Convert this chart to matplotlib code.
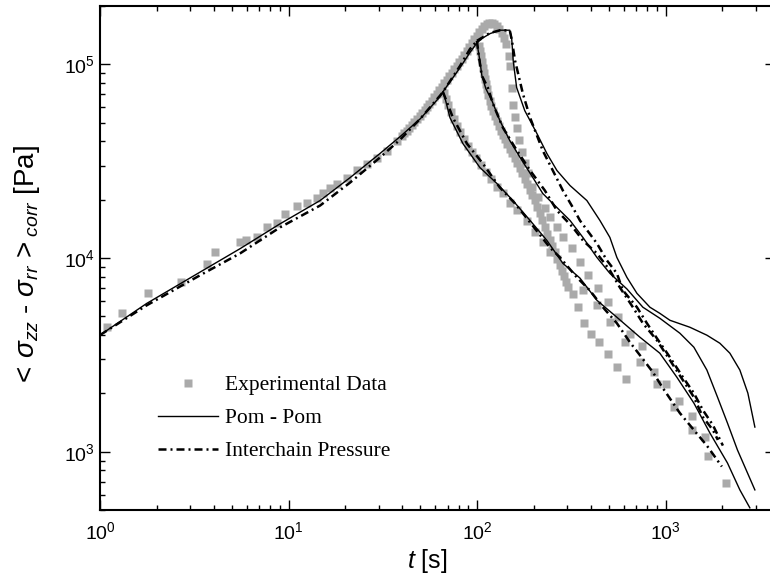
import matplotlib
matplotlib.use('Agg')
import numpy as np
import matplotlib.pyplot as plt
from matplotlib.ticker import LogLocator, FuncFormatter, NullFormatter

plt.rcParams['font.family'] = 'Liberation Sans'
plt.rcParams['mathtext.fontset'] = 'custom'
plt.rcParams['mathtext.rm'] = 'Liberation Sans'
plt.rcParams['mathtext.it'] = 'Liberation Sans:italic'
plt.rcParams['mathtext.bf'] = 'Liberation Sans:bold'

# experimental data: common start-up curve
exp_grow_t = [1.09, 1.31, 1.80, 2.69, 3.69, 4.07, 5.53, 5.94, 6.80, 7.68, 8.68, 9.57, 11.1, 12.5, 14.1,
              15.2, 16.6, 18.1, 20.4, 23.1, 26.0, 29.4, 33.2, 37.6, 39.9, 41.1, 42.4, 43.7, 45.1, 46.5,
              48.0, 49.5, 51.0, 52.6, 54.2, 55.9, 57.6, 59.4, 61.2, 63.1, 65.1, 67.1, 69.2, 71.3, 73.5,
              75.8, 78.2, 80.6, 83.1, 85.7, 88.3, 91.1, 93.9, 96.8, 99.8]
exp_grow_s = [4390, 5180, 6610, 7530, 9270, 10800, 12080, 12320, 12760, 14390, 15250, 16970, 18660, 19340, 20510,
              21770, 23100, 24230, 26000, 28300, 30720, 33000, 35800, 40400, 42800, 44080, 45400, 47070, 48800, 50570,
              52400, 54300, 56260, 58290, 60400, 62610, 64900, 67640, 70500, 73490, 76600, 79830, 83200, 86730, 90400,
              94220, 98200, 102360, 106700, 111920, 117400, 123110, 129100, 134590, 140300]

# relaxation after the short run
exp1_t = [66.7, 68.3, 70.0, 72.6, 75.3, 78.2, 81.1, 85.1, 89.4, 93.9, 98.5, 104.7, 111.3, 118.3, 127.4, 137.0,
          149.2, 162.6, 183.7, 202.5, 223.4, 243.2, 363.9, 431.7, 505.9, 607.6, 729.8, 898.0, 1105, 1377, 1674, 2085]
exp1_s = [71340, 66420, 61840, 56930, 52400, 48230, 44890, 41320, 38040, 35420, 32980, 30350, 27940, 25720, 23390, 21780,
          19340, 17590, 15440, 13550, 12030, 10690, 6810, 5700, 4660, 3675, 2898, 2245, 1700, 1294, 950, 690]

# relaxation after the middle run
exp2_t = [102.2, 103.4, 104.7, 106.0, 107.3, 108.6, 110.0, 111.3, 112.7, 114.8, 116.9, 119.1, 121.3, 124.3, 127.4,
          130.5, 133.7, 137.0, 140.4, 144.7, 149.2, 153.8, 158.6, 163.6, 168.7, 173.9, 179.2, 184.8, 190.5, 196.4,
          202.5, 208.8, 215.3, 221.9, 228.8, 235.9, 243.2, 250.7, 258.5, 266.5, 274.8, 281.6, 288.5, 295.7, 303.0,
          322.0, 342.3, 368.4, 401.3, 442.4, 493.8, 551.0, 615.2]
exp2_s = [124550, 117370, 110600, 103010, 95940, 89890, 84220, 79360, 74780, 69640, 64860, 61120, 57600, 54290, 51170,
          48210, 45430, 43330, 41320, 38940, 36700, 34790, 32980, 31090, 29300, 27450, 25720, 24090, 22560, 21140,
          19810, 18340, 16980, 15630, 14380, 13310, 12320, 11480, 10690, 9900, 9160, 8580, 8040, 7530, 7056,
          6494, 5566, 4605, 4041, 3675, 3187, 2732, 2368]

# overshoot and relaxation of the long run
exp3_t = [102.9, 106.0, 109.3, 112.7, 116.2, 119.8, 123.5, 127.4, 131.3, 135.4, 138.7, 142.1, 147.4, 149.2, 152.9,
          154.8, 158.6, 162.6, 166.6, 172.8, 179.2, 185.9, 195.2, 210.1, 228.8, 243.2, 264.9, 285.1, 318.1, 350.8,
          386.8, 437.0, 493.8, 557.8, 645.9, 747.8, 865.8, 1002, 1175, 1377, 1614]
exp3_s = [146200, 152360, 156960, 161700, 162650, 163600, 160720, 157900, 151470, 145300, 136110, 127500, 110600, 98240, 75670,
          61840, 53630, 47090, 40830, 35420, 31090, 27610, 23390, 20530, 18220, 16190, 14380, 12770, 11210, 9504,
          8147, 6988, 5934, 4966, 4060, 3521, 2586, 2243, 1834, 1532, 1194]

# Pom-Pom model
pp_grow_t = [1.0, 1.77, 3.39, 5.53, 9.0, 14.7, 21.2, 30.5, 39.0, 50.0, 63.5, 65.9, 81.1, 91.6, 99.8]
pp_grow_s = [4000, 5830, 8450, 11170, 15000, 19800, 26000, 34600, 42300, 52400, 68000, 72200, 96000, 115000, 129000]
pp1_t = [65.9, 67.5, 71.8, 84.1, 103.5, 127.4, 154.8, 191, 234.5, 285, 351, 431.8, 551, 730, 931, 1146, 1411,
         1716, 2127, 2474, 2795]
pp1_s = [72200, 67200, 53000, 38950, 29300, 24230, 19800, 15620, 12320, 9380, 7877, 6050, 4943, 3900, 3225, 2425, 1782,
         1249, 874, 635, 513]
pp2_t = [99.8, 103.5, 106, 111.3, 119.8, 132, 149, 169, 197.6, 223, 258.5, 311, 364, 431.8, 506, 623, 757, 931,
         1189, 1411, 1654, 1883, 2127, 2403, 2715, 2972]
pp2_s = [129000, 104200, 87300, 74800, 64900, 51200, 40400, 33000, 26000, 21520, 18660, 15620, 12770, 10070, 8330, 6920,
         5570, 4885, 4090, 3463, 2640, 1913, 1405, 1020, 777, 635]
pp3_t = [99.8, 107.3, 117, 132, 149, 152.4, 155.4, 162, 179, 207.6, 234.5, 265, 311, 382, 448, 506, 551, 623, 704,
         825, 931, 1053, 1344, 1654, 1938, 2190, 2474, 2728, 2972]
pp3_s = [129000, 136900, 144000, 150000, 150000, 137500, 104200, 75900, 57600, 43900, 34600, 28300, 23660, 19800, 15620,
         12770, 10070, 7940, 6570, 5570, 5180, 4770, 4390, 3995, 3630, 3225, 2640, 2006, 1340]

# Interchain Pressure model
ic_grow_t = [1.0, 1.77, 3.39, 5.53, 9.0, 14.7, 21.2, 30.5, 39.0, 50.0, 63.5, 65.9, 81.1, 91.6, 99.8]
ic_grow_s = [4000, 5700, 8140, 10560, 14380, 18660, 24520, 33000, 40800, 52400, 68800, 72000, 98000, 119800, 132200]
ic1_t = [65.9, 74.4, 88.3, 107.3, 132, 159, 191, 243, 275, 338, 396, 464.5, 551, 646, 730, 855, 966, 1189, 1411,
         1654, 1986]
ic1_s = [72000, 53000, 38950, 30720, 23100, 19110, 15260, 11340, 10070, 7940, 6810, 5570, 4605, 3675, 3150, 2575, 2130,
         1583, 1294, 1075, 838]
ic2_t = [99.8, 102, 106, 114, 121.3, 137, 159, 191, 228.8, 265, 322, 364, 431.8, 506, 571, 670, 757, 898, 1053,
         1234, 1411, 1575, 1780, 1891]
ic2_s = [132200, 110600, 87300, 75700, 62600, 47100, 37140, 28300, 22300, 17600, 14380, 12320, 10560, 8630, 7056, 5570,
         4605, 3760, 2970, 2340, 1913, 1510, 1294, 1150]
ic3_t = [99.8, 117, 132, 149, 153, 159, 174.9, 191, 223, 252, 285, 322, 351, 431.8, 488, 551, 593, 704, 795, 898,
         1053, 1234, 1411, 1575, 1780, 2011]
ic3_s = [132200, 145300, 149700, 149700, 132200, 104200, 70500, 53000, 35800, 28300, 22300, 18220, 15620, 11890, 9720,
         8330, 6810, 5570, 4605, 3853, 3075, 2425, 2006, 1640, 1372, 1075]

grey = '#aaaaaa'
dashdot = (0, (3.2, 1.6, 0.8, 1.6))

fig = plt.figure(figsize=(7.7, 5.8), dpi=100)
ax = fig.add_axes([100 / 770, 70 / 580, 675 / 770, 504 / 580])

# experimental squares
for t, s in [(exp_grow_t, exp_grow_s), (exp1_t, exp1_s), (exp2_t, exp2_s), (exp3_t, exp3_s)]:
    ax.plot(t, s, ls='none', marker='s', ms=5.2, mfc=grey, mec='none', zorder=1)

# model curves
for t, s in [(pp_grow_t, pp_grow_s), (pp1_t, pp1_s), (pp2_t, pp2_s), (pp3_t, pp3_s)]:
    ax.plot(t, s, color='black', lw=1.0, zorder=3)
for t, s in [(ic_grow_t, ic_grow_s), (ic1_t, ic1_s), (ic2_t, ic2_s), (ic3_t, ic3_s)]:
    ax.plot(t, s, color='black', lw=1.8, ls=dashdot, zorder=2)

ax.set_xscale('log')
ax.set_yscale('log')
ax.set_xlim(1, 3800)
ax.set_ylim(500, 2e5)

fmt = FuncFormatter(lambda v, p: r'$10^{%d}$' % round(np.log10(v)))
for axis in [ax.xaxis, ax.yaxis]:
    axis.set_major_locator(LogLocator(base=10))
    axis.set_minor_locator(LogLocator(base=10, subs=np.arange(2, 10)))
    axis.set_major_formatter(fmt)
    axis.set_minor_formatter(NullFormatter())

ax.tick_params(which='both', direction='in', top=True, right=True, width=1.0, labelsize=14)
ax.tick_params(which='major', length=7.2)
ax.tick_params(which='minor', length=3.8)
ax.tick_params(axis='x', pad=8)
for sp in ax.spines.values():
    sp.set_linewidth(1.5)

ax.set_xlabel(r'$t$ [s]', fontsize=18)
ax.xaxis.set_label_coords(327 / 675, -37 / 504)
ax.set_ylabel(r'$<\,\sigma_{zz}$ - $\sigma_{rr}\,>_{corr}$ [Pa]', fontsize=20)
ax.yaxis.set_label_coords(-58 / 675, 244 / 504)

# legend proxies
h_exp, = ax.plot([], [], ls='none', marker='s', ms=5.2, mfc=grey, mec='none')
h_pp, = ax.plot([], [], color='black', lw=1.0)
h_ic, = ax.plot([], [], color='black', lw=1.8, ls=dashdot)
ax.legend([h_exp, h_pp, h_ic], ['Experimental Data', 'Pom - Pom', 'Interchain Pressure'],
          loc='upper left', bbox_to_anchor=(158 / 770, 1 - 375 / 580), bbox_transform=fig.transFigure,
          frameon=False, borderpad=0, borderaxespad=0, handlelength=2.8, handletextpad=0.3,
          labelspacing=0.6, numpoints=1, prop={'family': 'Liberation Serif', 'size': 15.5})

fig.savefig('out.png', dpi=100)
